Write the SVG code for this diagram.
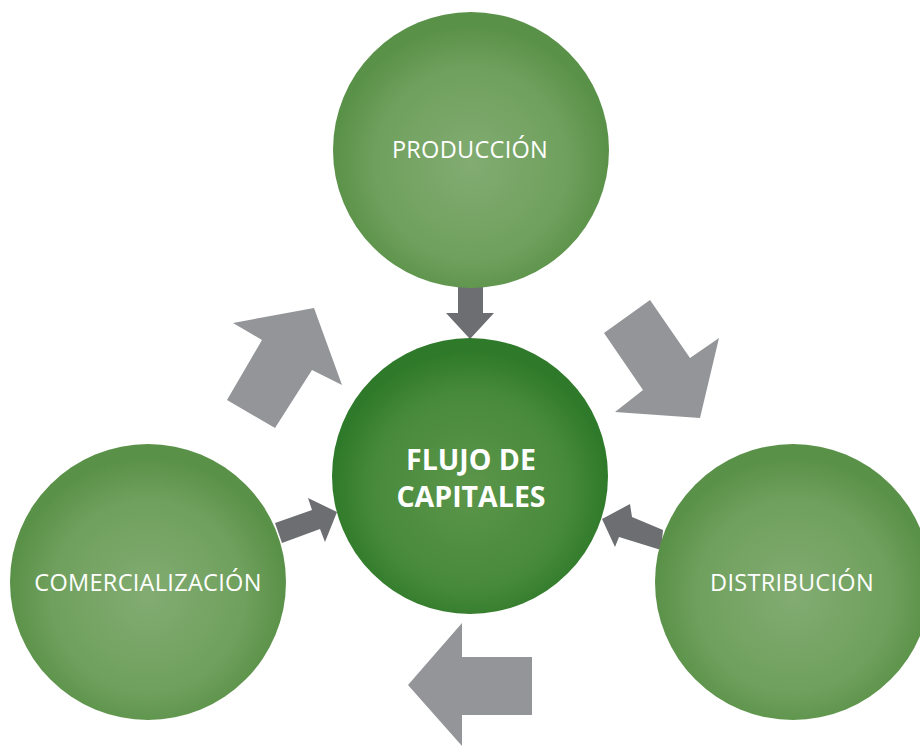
<svg xmlns="http://www.w3.org/2000/svg" width="920" height="746" viewBox="0 0 920 746">
<style>
.lbl{font-family:"Open Sans","Noto Sans",sans-serif;fill:#fff;font-size:23.5px;letter-spacing:0.3px;text-anchor:middle}
.ctr{font-family:"Open Sans","Noto Sans",sans-serif;fill:#fff;font-size:28.5px;font-weight:bold;text-anchor:middle}
.big{fill:#939598}
.small{fill:#6d6e72}
</style>
<defs>
<radialGradient id="gOuter" cx="0.5" cy="0.55" r="0.5">
<stop offset="0" stop-color="#82ac72"/>
<stop offset="0.7" stop-color="#6fa05d"/>
<stop offset="1" stop-color="#5a9148"/>
</radialGradient>
<radialGradient id="gCenter" cx="0.5" cy="0.55" r="0.5">
<stop offset="0" stop-color="#5c964a"/>
<stop offset="0.7" stop-color="#488a3b"/>
<stop offset="1" stop-color="#2f7a2a"/>
</radialGradient>
</defs>
<g id="connectors">
<polygon class="big" points="233,323 314,308 342,385 312,370 275,428 227,400 262,340"/>
<polygon class="big" points="650,300 690,358 719,338 700,418 615,412 643,390 604,333"/>
<polygon class="big" points="408,685 462,623 462,657 532,657 532,715 462,715 462,746"/>
<polygon class="small" points="458,286 483,286 483,313 494,313 470,339 446,313 458,313"/>
<polygon class="small" points="275,523 312,510 308,498 337,512 325,542 320,529 282,543"/>
<polygon class="small" points="663,530 632,517 630,504 602,519 615,547 619,537 661,550"/>
</g>
<g id="produccion">
<circle cx="471" cy="150" r="138" fill="url(#gOuter)"/>
<text class="lbl" x="470" y="158">PRODUCCIÓN</text>
</g>
<g id="comercializacion">
<circle cx="148" cy="582" r="138" fill="url(#gOuter)"/>
<text class="lbl" x="148" y="591">COMERCIALIZACIÓN</text>
</g>
<g id="distribucion">
<circle cx="793" cy="582" r="138" fill="url(#gOuter)"/>
<text class="lbl" x="792" y="591">DISTRIBUCIÓN</text>
</g>
<g id="flujo">
<circle cx="470" cy="476" r="138" fill="url(#gCenter)"/>
<text class="ctr" x="471" y="470">FLUJO DE</text>
<text class="ctr" x="471" y="507">CAPITALES</text>
</g>
</svg>
